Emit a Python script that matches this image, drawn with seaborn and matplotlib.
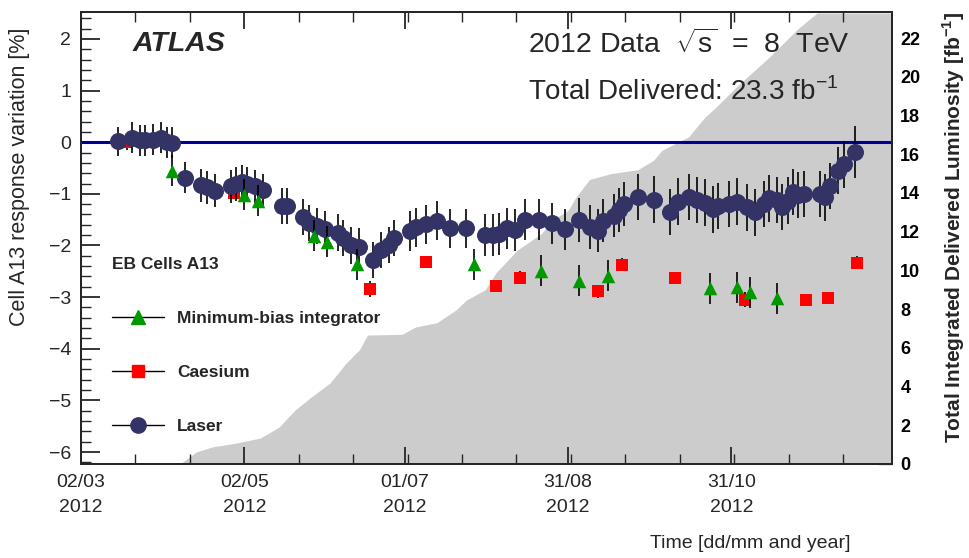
import pandas as pd
import matplotlib
matplotlib.use('Agg')
import matplotlib.pyplot as plt
import seaborn as sns
from matplotlib.ticker import AutoMinorLocator, MultipleLocator
from matplotlib.lines import Line2D

# Laser: response variation [%] per date
laser_dates = ['2012-03-16', '2012-03-21', '2012-03-24', '2012-03-26', '2012-03-29', '2012-04-01',
               '2012-04-03', '2012-04-05', '2012-04-10', '2012-04-16', '2012-04-18', '2012-04-21',
               '2012-04-27', '2012-04-29', '2012-05-01', '2012-05-03', '2012-05-06', '2012-05-09',
               '2012-05-16', '2012-05-18', '2012-05-24', '2012-05-26', '2012-05-29', '2012-06-01',
               '2012-06-06', '2012-06-08', '2012-06-11', '2012-06-14', '2012-06-19', '2012-06-22',
               '2012-06-25', '2012-06-27', '2012-07-03', '2012-07-05', '2012-07-09', '2012-07-13',
               '2012-07-18', '2012-07-24', '2012-07-31', '2012-08-03', '2012-08-05', '2012-08-08',
               '2012-08-11', '2012-08-15', '2012-08-20', '2012-08-25', '2012-08-30', '2012-09-04',
               '2012-09-08', '2012-09-11', '2012-09-13', '2012-09-17', '2012-09-19', '2012-09-21',
               '2012-09-26', '2012-10-02', '2012-10-08', '2012-10-11', '2012-10-15', '2012-10-18',
               '2012-10-21', '2012-10-24', '2012-10-26', '2012-10-30', '2012-11-02', '2012-11-06',
               '2012-11-09', '2012-11-12', '2012-11-14', '2012-11-17', '2012-11-19', '2012-11-21',
               '2012-11-23', '2012-11-25', '2012-11-27', '2012-12-03', '2012-12-05', '2012-12-07',
               '2012-12-10', '2012-12-12', '2012-12-16']
laser_vals = [0.02, 0.09, 0.04, 0.04, 0.05, 0.09,
              0.00, -0.01, -0.69, -0.83, -0.87, -0.94,
              -0.85, -0.81, -0.77, -0.80, -0.85, -0.93,
              -1.23, -1.24, -1.45, -1.57, -1.62, -1.68,
              -1.75, -1.86, -2.00, -2.02, -2.28, -2.08,
              -1.99, -1.86, -1.72, -1.65, -1.59, -1.52,
              -1.67, -1.67, -1.80, -1.80, -1.78, -1.67,
              -1.70, -1.50, -1.50, -1.57, -1.69, -1.51,
              -1.64, -1.71, -1.52, -1.42, -1.31, -1.20,
              -1.06, -1.11, -1.35, -1.15, -1.06, -1.12,
              -1.17, -1.30, -1.24, -1.20, -1.15, -1.26,
              -1.36, -1.20, -1.09, -1.12, -1.25, -1.13,
              -0.96, -1.02, -1.00, -1.00, -1.07, -0.85,
              -0.55, -0.43, -0.19]
laser_errs = [0.28, 0.30, 0.30, 0.30, 0.30, 0.30,
              0.30, 0.30, 0.30, 0.32, 0.32, 0.32,
              0.32, 0.32, 0.32, 0.32, 0.32, 0.32,
              0.35, 0.35, 0.35, 0.35, 0.35, 0.35,
              0.35, 0.35, 0.35, 0.35, 0.35, 0.35,
              0.35, 0.35, 0.38, 0.38, 0.38, 0.38,
              0.38, 0.38, 0.40, 0.40, 0.40, 0.40,
              0.40, 0.40, 0.40, 0.40, 0.40, 0.42,
              0.42, 0.42, 0.42, 0.42, 0.42, 0.42,
              0.45, 0.45, 0.45, 0.45, 0.45, 0.45,
              0.45, 0.45, 0.45, 0.45, 0.45, 0.45,
              0.45, 0.45, 0.45, 0.45, 0.45, 0.45,
              0.45, 0.45, 0.45, 0.45, 0.45, 0.45,
              0.45, 0.45, 0.50]

# Caesium scans
cs_dates = ['2012-03-19', '2012-04-28', '2012-06-18', '2012-07-09', '2012-08-04', '2012-08-13',
            '2012-09-11', '2012-09-20', '2012-10-10', '2012-11-05', '2012-11-28', '2012-12-06',
            '2012-12-17']
cs_vals = [0.00, -0.98, -2.84, -2.32, -2.78, -2.62, -2.89, -2.37, -2.63, -3.05, -3.06, -3.02, -2.33]
cs_errs = [0.15, 0.12, 0.15, 0.12, 0.12, 0.12, 0.12, 0.12, 0.12, 0.15, 0.12, 0.12, 0.12]

# Minimum-bias integrator
mb_dates = ['2012-04-05', '2012-05-02', '2012-05-07', '2012-05-28', '2012-06-02', '2012-06-13',
            '2012-07-27', '2012-08-21', '2012-09-04', '2012-09-15', '2012-10-23', '2012-11-02',
            '2012-11-07', '2012-11-17']
mb_vals = [-0.55, -1.02, -1.13, -1.81, -1.93, -2.36, -2.36, -2.49, -2.68, -2.59, -2.83, -2.81, -2.91, -3.02]
mb_errs = [0.30] * 14

# Cumulative delivered luminosity [fb^-1]
lumi_dates = ['2012-03-02', '2012-04-08', '2012-04-14', '2012-04-20', '2012-04-29', '2012-05-08',
              '2012-05-15', '2012-05-21', '2012-05-27', '2012-06-03', '2012-06-09', '2012-06-14',
              '2012-06-17', '2012-06-30', '2012-07-05', '2012-07-13', '2012-07-20', '2012-07-24',
              '2012-07-31', '2012-08-04', '2012-08-12', '2012-08-21', '2012-08-25', '2012-08-31',
              '2012-09-03', '2012-09-08', '2012-09-16', '2012-09-26', '2012-10-02', '2012-10-05',
              '2012-10-15', '2012-10-21', '2012-10-25', '2012-11-02', '2012-11-14', '2012-11-25',
              '2012-12-02', '2012-12-31']
lumi_vals = [0.0, 0.0, 0.62, 0.88, 1.08, 1.34,
             1.91, 2.79, 3.46, 4.18, 5.2, 5.9,
             6.66, 6.7, 7.08, 7.3, 7.95, 8.47,
             9.0, 9.87, 11.05, 11.9, 12.6, 13.1,
             13.8, 14.7, 15.0, 15.2, 15.7, 16.2,
             16.9, 17.9, 18.4, 19.5, 21.0, 22.5,
             23.3, 23.3]

tick_dates = ['2012-03-02', '2012-05-02', '2012-07-01', '2012-08-31', '2012-10-31']
tick_labels = ['02/03\n2012', '02/05\n2012', '01/07\n2012', '31/08\n2012', '31/10\n2012']

sns.set_style('ticks')
plt.rcParams['font.family'] = ['Liberation Sans', 'DejaVu Sans']
plt.rcParams['mathtext.fontset'] = 'custom'
plt.rcParams['mathtext.rm'] = 'Liberation Sans'
plt.rcParams['mathtext.bf'] = 'Liberation Sans:bold'
plt.rcParams['axes.linewidth'] = 1.4

W, H = 969, 558
fig = plt.figure(figsize=(W / 100, H / 100), dpi=100)
ax = fig.add_axes([81 / W, 1 - 464 / H, 811 / W, 452 / H])
ax2 = ax.twinx()

# luminosity band behind everything
ax2.fill_between(pd.to_datetime(lumi_dates), lumi_vals, color='#cccccc', lw=0)
ax2.set_ylim(0, 23.35)
ax.set_zorder(ax2.get_zorder() + 1)
ax.patch.set_visible(False)

ax.axhline(0, color='#000099', lw=2.2, zorder=1)

laser = pd.DataFrame({'date': pd.to_datetime(laser_dates), 'val': laser_vals, 'err': laser_errs})
cs = pd.DataFrame({'date': pd.to_datetime(cs_dates), 'val': cs_vals, 'err': cs_errs})
mb = pd.DataFrame({'date': pd.to_datetime(mb_dates), 'val': mb_vals, 'err': mb_errs})

red, green, navy = '#ff0000', '#009a00', '#333366'

ax.errorbar(cs['date'], cs['val'], yerr=cs['err'], fmt='none', ecolor='black', elinewidth=1.2, zorder=2)
sns.scatterplot(data=cs, x='date', y='val', ax=ax, marker='s', s=78, color=red, linewidth=0, zorder=3)
ax.errorbar(laser['date'], laser['val'], yerr=laser['err'], fmt='none', ecolor='black', elinewidth=1.2, zorder=4)
sns.scatterplot(data=laser, x='date', y='val', ax=ax, marker='o', s=150, color=navy, linewidth=0, zorder=5)
ax.errorbar(mb['date'], mb['val'], yerr=mb['err'], fmt='none', ecolor='black', elinewidth=1.2, zorder=6)
sns.scatterplot(data=mb, x='date', y='val', ax=ax, marker='^', s=95, color=green, linewidth=0, zorder=7)

ax.set_xlim(pd.Timestamp('2012-03-02'), pd.Timestamp('2012-12-30'))
ax.set_ylim(-6.23, 2.52)
ax.set_xlabel('')
ax.set_ylabel('')

ax.set_xticks(pd.to_datetime(tick_dates))
ax.set_xticklabels(tick_labels, fontsize=14, linespacing=1.6)
ax.xaxis.set_minor_locator(AutoMinorLocator(3))
ax.yaxis.set_major_locator(MultipleLocator(1))
ax.yaxis.set_minor_locator(MultipleLocator(0.2))
ax.tick_params(axis='x', which='both', direction='in', top=True, bottom=True, pad=7)
ax.tick_params(axis='x', which='major', length=12, width=1.3)
ax.tick_params(axis='x', which='minor', length=7, width=1.0)
ax.tick_params(axis='y', which='both', direction='in', left=True, right=False, labelsize=14, pad=7)
ax.tick_params(axis='y', which='major', length=14, width=1.3)
ax.tick_params(axis='y', which='minor', length=7, width=1.0)

ax2.yaxis.set_major_locator(MultipleLocator(2))
ax2.yaxis.set_minor_locator(MultipleLocator(0.5))
ax2.tick_params(axis='y', which='both', direction='in', labelsize=13, pad=6, colors='#888888',
                labelcolor='black')
ax2.tick_params(axis='y', which='major', length=10, width=1.0)
ax2.tick_params(axis='y', which='minor', length=6, width=1.0)
for t in ax2.get_yticklabels():
    t.set_fontweight('bold')
ax2.set_ylabel('')

# legend
handles = [
    Line2D([], [], color='black', lw=1, marker='^', ms=9.5, mfc=green, mec=green),
    Line2D([], [], color='black', lw=1, marker='s', ms=8.5, mfc=red, mec=red),
    Line2D([], [], color='black', lw=1, marker='o', ms=11, mfc=navy, mec=navy),
]
leg = ax.legend(handles, ['Minimum-bias integrator', 'Caesium', 'Laser'], title='EB Cells A13',
                loc='upper left', bbox_to_anchor=(0.038, 0.459), frameon=False,
                prop={'weight': 'bold', 'size': 12.5},
                title_fontproperties={'weight': 'bold', 'size': 12.5},
                alignment='left', labelspacing=2.25, handlelength=3.0, handletextpad=0.75,
                borderpad=0, borderaxespad=0)

# annotations
fig.text(133 / W, 1 - 44 / H, 'ATLAS', fontsize=20.5, fontweight='bold', fontstyle='italic', va='center')
fig.text(528 / W, 1 - 44 / H, r'2012 Data  $\sqrt{\mathrm{s}}$  =  8  TeV', fontsize=20.5, va='center')
fig.text(528 / W, 1 - 92 / H, r'Total Delivered: 23.3 fb$^{-1}$', fontsize=20, va='center')

fig.text(20 / W, 1 - 28 / H, 'Cell A13 response variation [%]', fontsize=15.5, rotation=90,
         rotation_mode='anchor', ha='right', va='center')
fig.text(954 / W, 1 - 12 / H, r'Total Integrated Delivered Luminosity [fb$^{\mathbf{-1}}$]', fontsize=15,
         fontweight='bold', rotation=90, rotation_mode='anchor', ha='right', va='center')
fig.text(850 / W, 1 - 543 / H, 'Time [dd/mm and year]', fontsize=14, ha='right', va='center')

fig.savefig('out.png', dpi=100)
